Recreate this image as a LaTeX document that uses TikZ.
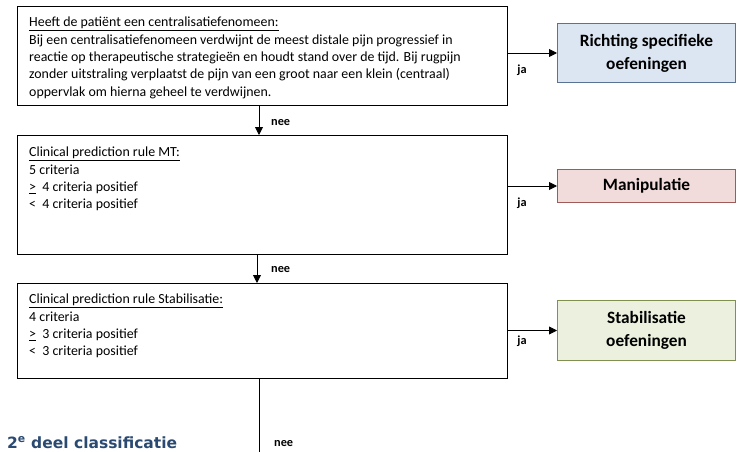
\documentclass[tikz,border=0pt]{standalone}
\usepackage{fontspec}
\setmainfont{Carlito}
\newfontfamily\titlefont{DejaVu Sans}
\usetikzlibrary{arrows.meta}
\definecolor{blueF}{HTML}{DCE6F2}
\definecolor{blueD}{HTML}{5A7394}
\definecolor{redF}{HTML}{F2DCDB}
\definecolor{redD}{HTML}{A05A5A}
\definecolor{greenF}{HTML}{EBF1DE}
\definecolor{greenD}{HTML}{7F9050}
\definecolor{titleC}{HTML}{2B4A72}
\tikzset{
  qbox/.style={draw=black, line width=0.9pt, rectangle, inner sep=0pt, anchor=north west},
  qtxt/.style={anchor=north west, align=left, inner sep=0pt, font=\fontsize{13.9}{17.3}\selectfont},
  rbox/.style={rectangle, line width=1pt, inner sep=0pt, anchor=north west, align=center,
     font=\fontsize{17.3}{23}\selectfont\bfseries},
  arr/.style={line width=0.9pt, -{Triangle[length=8pt,width=8pt]}},
  lin/.style={line width=0.9pt},
  lab/.style={font=\fontsize{12.3}{14}\selectfont\bfseries, inner sep=0pt}
}
\begin{document}
\begin{tikzpicture}[x=1pt,y=-1pt]
\useasboundingbox (0,0) rectangle (739,452);
% question boxes
\node[qbox, minimum width=490pt, minimum height=99pt] (q1) at (17,6) {};
\node[qbox, minimum width=490pt, minimum height=119pt] (q2) at (17,135) {};
\node[qbox, minimum width=490pt, minimum height=95pt] (q3) at (17,283) {};
% texts
\node[qtxt] (t1) at (29,17) {\underline{Heeft de patiënt een centralisatiefenomeen:}\\
Bij een centralisatiefenomeen verdwijnt de meest distale pijn progressief in\\
reactie op therapeutische strategieën en houdt stand over de tijd. Bij rugpijn\\
zonder uitstraling verplaatst de pijn van een groot naar een klein (centraal)\\
oppervlak om hierna geheel te verdwijnen.};
\node[qtxt] (t2) at (29,147) {\underline{Clinical prediction rule MT:}\\
5 criteria\\
\underline{>}\ \ 4 criteria positief\\
<\ \ 4 criteria positief};
\node[qtxt] (t3) at (29,294) {\underline{Clinical prediction rule Stabilisatie:}\\
4 criteria\\
\underline{>}\ \ 3 criteria positief\\
<\ \ 3 criteria positief};
% result boxes
\node[rbox, draw=blueD, fill=blueF, minimum width=178pt, minimum height=59pt] (r1) at (557,23) {Richting specifieke\\oefeningen};
\node[rbox, draw=redD, fill=redF, minimum width=178pt, minimum height=33pt] (r2) at (557,169) {Manipulatie};
\node[rbox, draw=greenD, fill=greenF, minimum width=178pt, minimum height=60pt] (r3) at (557,300) {Stabilisatie\\oefeningen};
% ja arrows
\draw[arr] (q1.east |- r1.west) -- (r1.west);
\draw[arr] (q2.east |- r2.west) -- (r2.west);
\draw[arr] (q3.east |- r3.west) -- (r3.west);
\node[lab] (ja1) at (522,70) {ja};
\node[lab] (ja2) at (522,203) {ja};
\node[lab] (ja3) at (522,341) {ja};
% nee arrows
\coordinate (c1) at (259,0);
\coordinate (c2) at (257,0);
\coordinate (c3) at (259,0);
\coordinate (end) at (259,452);
\draw[arr] (c1 |- q1.south) -- (c1 |- q2.north);
\draw[arr] (c2 |- q2.south) -- (c2 |- q3.north);
\draw[lin] (c3 |- q3.south) -- (end);
\node[lab, anchor=west] (n1) at (271,123) {nee};
\node[lab, anchor=west] (n2) at (271,270) {nee};
\node[lab, anchor=west] (n3) at (274,444) {nee};
% title
\node[anchor=base west, inner sep=0pt, text=titleC, font=\titlefont\fontsize{15.5}{18}\selectfont\bfseries] (title) at (7,448) {2\textsuperscript{e} deel classificatie};
\end{tikzpicture}
\end{document}
